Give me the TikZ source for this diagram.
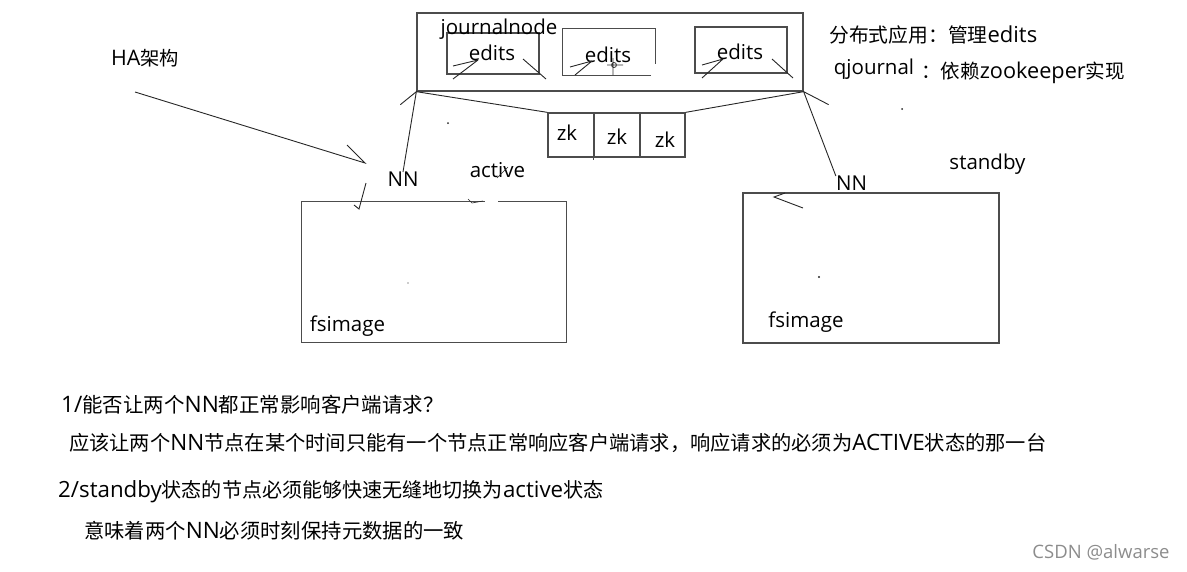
\documentclass[tikz,border=0pt]{standalone}
\usepackage{fontspec}
\setmainfont{Open Sans}
\newfontfamily\cjk[Scale=0.9]{Noto Sans CJK SC}
\usetikzlibrary{calc}

\newcommand{\zh}[1]{{\cjk #1}}

\tikzset{
  box/.style={draw=black!70, line width=1.3pt, inner sep=0pt},
  hand/.style={draw=black!85, line width=0.9pt},
  lbl/.style={inner sep=0pt, font=\fontsize{#1}{#1}\selectfont},
  lbl/.default=20.5,
  speck/.style={fill=black!85},
}

\begin{document}
\begin{tikzpicture}[x=1pt,y=-1pt]
\useasboundingbox (0,0) rectangle (1187,571);

% journalnode group
\node[box, minimum width=386pt, minimum height=78pt] (jn) at (610,52) {};
\node[box, minimum width=92pt, minimum height=41pt] (ed1) at (493,53.5) {};
\node[inner sep=0pt, minimum width=92pt, minimum height=46pt] (ed2) at (609,52) {};
\draw[box] ($(ed2.south east)+(-4,0)$) -- (ed2.south west) -- (ed2.north west)
  -- (ed2.north east) -- ($(ed2.south east)+(0,-11)$);
\node[box, minimum width=92pt, minimum height=46pt] (ed3) at (741,50) {};
\node[lbl] (jnlbl) at (499,29) {journalnode};
\node[lbl] (edt1) at (492,53) {edits};
\node[lbl] (edt2) at (608,55) {edits};
\node[lbl] (edt3) at (740,52) {edits};
% scribbles in the edits boxes
\draw[hand] (453,66) -- (478,60) (453,79) -- (478,60) (523,59) -- (546,79);
\draw[hand] (570,67) -- (592,61) (575,75) -- (592,61);
\draw[hand] (702,65) -- (723,59) (702,78) -- (723,59) (772,59) -- (793,78);
\draw[black!80, line width=0.8pt] (614,65) circle (2.5) (607,65) -- (623,65) (613,58) -- (613,75);

% zookeeper
\node[box, minimum width=46pt, minimum height=44pt] (zk1) at (571,135) {};
\node[box, minimum width=46pt, minimum height=44pt] (zk2) at (617,135) {};
\node[box, minimum width=45pt, minimum height=44pt] (zk3) at (662.5,135) {};
\draw[box] (zk2.south west) -- ++(0,2);
\node[lbl] (zkt1) at (567,133) {zk};
\node[lbl] (zkt2) at (617,137) {zk};
\node[lbl] (zkt3) at (665,140) {zk};
\draw[hand] (jn.south west) -- (zk1.north west);
\draw[hand] (zk3.north east) -- (jn.south east);

% active namenode
\node[inner sep=0pt, minimum width=264pt, minimum height=140pt] (act) at (434,272) {};
\draw[box] ($(act.north west)+(183,0)$) -- (act.north west) -- (act.south west)
  -- (act.south east) -- (act.north east) -- ($(act.north west)+(196,0)$);
\node[lbl] (nna) at (403,179.5) {NN};
\node[lbl] (actlbl) at (497.5,170.5) {active};
\node[lbl] (fs1) at (347.5,326) {fsimage};
\draw[hand] (nna.north) -- (jn.south west) -- ++(-16,13);
\draw[hand, line width=0.6pt] (497,178) -- (508,167) (468,199) -- (472,203) -- (483,201);

% HA arrow
\node[lbl=21.4] (ha) at (145,58) {HA\zh{架构}};
\coordinate (hatail) at (135,92);
\coordinate (hahead) at (365,163);
\draw[hand] (hatail) -- (hahead) -- ++(-18,-18);
\coordinate (nntop) at (366,183);
\coordinate (nnfoot) at (359,209);
\draw[hand] (nntop) -- (nnfoot) -- ++(-5,-4);

% standby namenode
\node[box, minimum width=256pt, minimum height=150pt] (sb) at (871,268) {};
\node[lbl] (nns) at (851.5,183.5) {NN};
\node[lbl] (sblbl) at (987.5,164.5) {standby};
\node[lbl] (fs2) at (806,322.5) {fsimage};
\draw[hand] (nns.north west) -- (jn.south east) -- ++(25,13);
\draw[hand] (785,193) -- (774,197) -- (803,208);

% specks
\fill[speck] (902,109) circle (1) (819,277) circle (1.2) (448,123) circle (1) (408,283) circle (0.6);

% notes top right
\node[lbl=22, anchor=west] (dist) at (829,35) {\zh{分布式应用：管理}edits};
\node[lbl] (qj) at (874,69.5) {qjournal};
\node[lbl=21.7, anchor=west] (zkimpl) at (921,73) {\zh{：依赖}zookeeper\zh{实现}};

% questions
\node[lbl=22.7, anchor=west] (q1) at (61,405) {1/\zh{能否让两个}NN\zh{都正常影响客户端请求？}};
\node[lbl=22.5, anchor=west] (a1) at (69,443) {\zh{应该让两个}NN\zh{节点在某个时间只能有一个节点正常响应客户端请求，响应请求的必须为}ACTIVE\zh{状态的那一台}};
\node[lbl=22.3, anchor=west] (q2) at (58,492) {2/standby\zh{状态的节点必须能够快速无缝地切换为}active\zh{状态}};
\node[lbl=22.6, anchor=west] (a2) at (84,531) {\zh{意味着两个}NN\zh{必须时刻保持元数据的一致}};
\node[lbl=18.5, text=black!45] (mark) at (1101,552) {CSDN @alwarse};
\end{tikzpicture}
\end{document}
